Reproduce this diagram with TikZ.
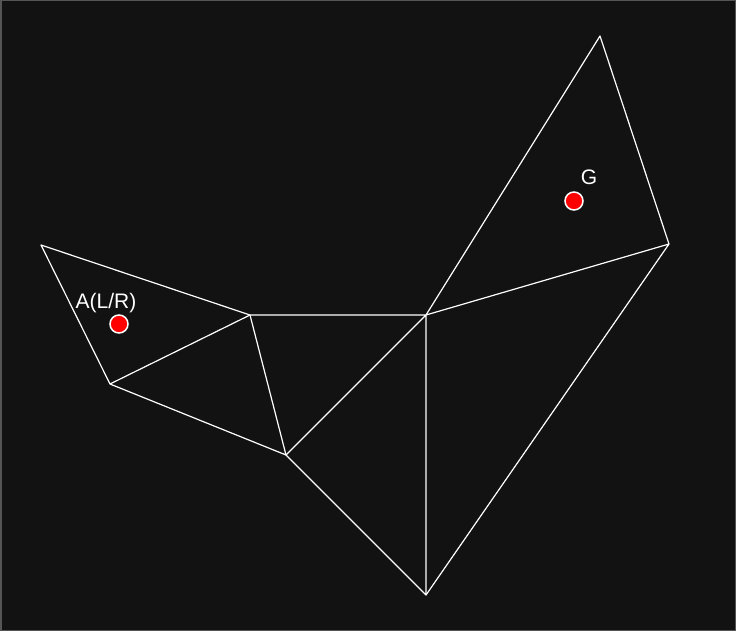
\documentclass[tikz,border=0pt]{standalone}
\usepackage{fontspec}
\setmainfont{Liberation Sans}
\definecolor{bg}{HTML}{121212}
\definecolor{frame}{HTML}{555555}
\begin{document}
\begin{tikzpicture}[x=1pt,y=-1pt,
  edge/.style={draw=white,line width=1.2pt,line join=round},
  dot/.style={circle,fill=red,draw=white,line width=1.5pt,minimum size=18pt,inner sep=0pt},
  lbl/.style={text=white,font=\fontsize{21}{21}\selectfont,inner sep=0pt}]
\fill[bg] (0,0) rectangle (736,631);
\draw[frame,line width=1.5pt] (0.75,0.75) rectangle (735.25,630.25);
\useasboundingbox (0,0) rectangle (736,631);
\coordinate (p1) at (41,245);
\coordinate (p2) at (110,384);
\coordinate (p3) at (250,315);
\coordinate (p4) at (286,455);
\coordinate (p5) at (426,315);
\coordinate (p6) at (426,595);
\coordinate (p7) at (600,36);
\coordinate (p8) at (669,244);
\draw[edge] (p1) -- (p3) -- (p2) -- cycle;
\draw[edge] (p2) -- (p4) -- (p3);
\draw[edge] (p3) -- (p5) -- (p4) -- (p6) -- (p5);
\draw[edge] (p6) -- (p8) -- (p5) -- (p7) -- (p8);
\node[dot] (a) at (119,324) {};
\node[dot] (g) at (574,201) {};
\node[lbl] (al) at (106,303) {A(L/R)};
\node[lbl] (gl) at (589,177) {G};
\end{tikzpicture}
\end{document}
